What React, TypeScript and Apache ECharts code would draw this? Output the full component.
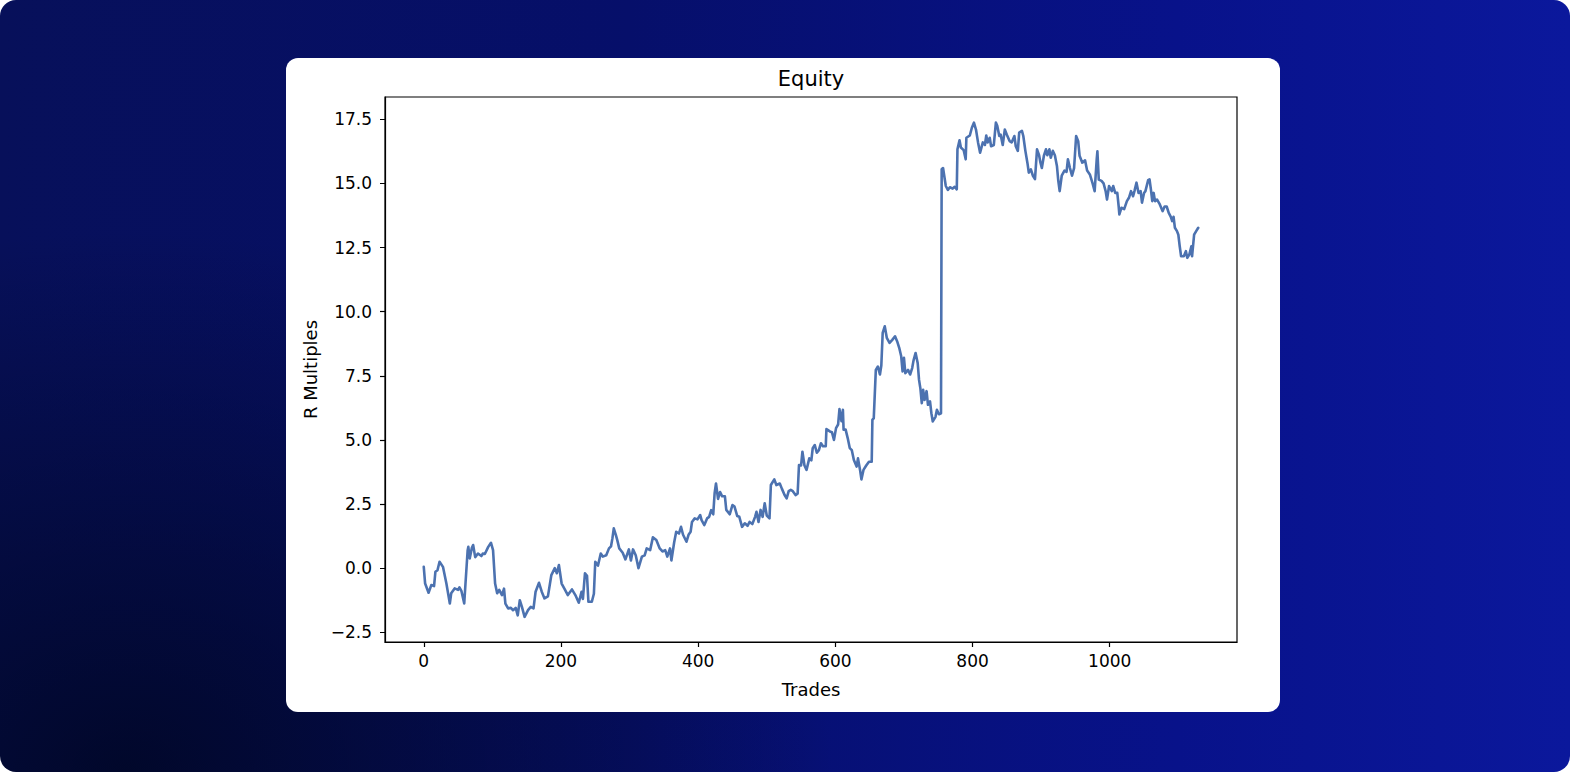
import React, { useEffect, useRef } from "react";
import * as echarts from "echarts";

// [trade number, cumulative R multiple]
const earlyTrades: [number, number][] = [
  [0, 0.05], [2, -0.6], [7, -0.96], [11, -0.66], [15, -0.7], [17, -0.14], [20, -0.08], [23, 0.25],
  [28, 0.05], [33, -0.6], [38, -1.38], [40, -0.98], [45, -0.79], [50, -0.85], [52, -0.75], [55, -0.9],
  [59, -1.38], [61, -0.53], [64, 0.7], [65, 0.83], [67, 0.38], [70, 0.78], [72, 0.9], [75, 0.43],
  [79, 0.57], [84, 0.47], [86, 0.57], [89, 0.55], [94, 0.83], [98, 0.99], [101, 0.7], [104, -0.6],
  [107, -0.98], [110, -0.85], [114, -1.05], [117, -0.8], [119, -1.38], [123, -1.57], [127, -1.55],
  [130, -1.64], [134, -1.55], [137, -1.84], [140, -1.25], [143, -1.5], [147, -1.9], [152, -1.64],
  [156, -1.51], [160, -1.57], [163, -0.92], [168, -0.57], [172, -0.92], [176, -1.18], [181, -1.1],
  [186, -0.27], [191, 0.0], [194, -0.2], [197, 0.12],
];

const climbTrades: [number, number][] = [
  [201, -0.6], [205, -0.8], [210, -1.05], [216, -0.83], [221, -1.05], [226, -1.35], [230, -0.92],
  [232, -1.2], [235, -0.2], [238, -0.3], [240, -1.31], [245, -1.31], [248, -1.0], [250, 0.25],
  [254, 0.1], [258, 0.57], [261, 0.45], [266, 0.5], [270, 0.77], [273, 0.85], [275, 1.16], [277, 1.55],
  [280, 1.3], [282, 1.1], [285, 0.77], [290, 0.6], [294, 0.34], [299, 0.73], [302, 0.3], [305, 0.73],
  [309, 0.5], [313, 0.0], [318, 0.45], [322, 0.5], [325, 0.77], [330, 0.7], [334, 1.2], [339, 1.1],
  [344, 0.77], [348, 0.65], [352, 0.7], [355, 0.45], [359, 0.77], [361, 0.3], [365, 1.0], [368, 1.42],
  [372, 1.35], [375, 1.61], [378, 1.3], [383, 1.03], [386, 1.3], [389, 1.42], [391, 1.8], [395, 1.94],
  [399, 1.9], [403, 2.07], [405, 1.87], [409, 1.68], [413, 1.94], [416, 2.0], [419, 2.26], [422, 2.1],
  [424, 2.92], [426, 3.3], [429, 2.7], [432, 2.97], [435, 2.8], [439, 2.8],
  [441, 2.27], [446, 2.1], [450, 2.46], [453, 2.4], [457, 2.03], [460, 2.0], [464, 1.61], [468, 1.75],
  [472, 1.65], [475, 1.8], [479, 1.72], [483, 2.0], [485, 2.2], [488, 1.8], [491, 2.27], [494, 2.0],
  [497, 2.53], [500, 2.05], [504, 1.94], [506, 3.24], [511, 3.46], [514, 3.24], [519, 3.3], [522, 3.1],
  [526, 2.85], [529, 2.72], [532, 3.0], [535, 3.05], [538, 3.0], [542, 2.85], [545, 2.9], [547, 4.02],
  [550, 4.0], [552, 4.54], [555, 4.0], [558, 3.83], [562, 4.28], [565, 4.2], [567, 4.68], [570, 4.8],
  [573, 4.5], [576, 4.6], [579, 4.87], [582, 4.75], [586, 4.75], [587, 5.42], [592, 5.33], [595, 5.3],
  [598, 5.0], [601, 5.46], [604, 5.6], [606, 6.2], [609, 5.73], [611, 6.17], [612, 5.4], [615, 5.4],
  [618, 5.07], [621, 4.68], [624, 4.6], [627, 4.22], [631, 3.96], [633, 4.28], [636, 3.83], [638, 3.46],
  [641, 3.83], [645, 4.0], [649, 4.15], [653, 4.15], [654, 5.78], [656, 5.85], [659, 7.73],
];

const jumpTrades: [number, number][] = [
  [662, 7.86], [665, 7.55], [667, 7.9], [669, 9.17], [672, 9.43], [675, 8.98], [679, 8.78], [683, 8.9],
  [687, 9.04], [690, 8.85], [693, 8.6], [696, 8.26], [698, 7.67], [700, 8.2], [702, 7.6], [706, 7.73],
  [709, 7.55], [712, 7.8], [714, 8.1], [717, 8.39], [720, 8.0], [722, 7.34], [724, 7.0], [726, 6.43],
  [728, 6.95], [730, 6.56], [733, 6.9], [735, 6.37], [738, 6.5], [740, 6.04], [742, 5.72], [746, 5.9],
  [748, 6.17], [751, 6.0], [754, 6.04], [755, 15.55], [757, 15.6], [761, 14.9], [764, 14.75],
  [767, 14.85], [771, 14.8], [774, 14.87], [777, 14.77], [778, 16.33], [781, 16.68], [783, 16.4],
  [787, 16.3], [790, 15.94], [791, 16.78], [796, 16.87], [799, 17.17], [802, 17.37], [805, 17.1],
  [808, 16.6], [811, 16.2], [815, 16.6], [818, 16.5], [820, 16.87], [822, 16.6], [825, 16.78],
  [827, 16.45], [831, 16.5], [834, 17.37], [836, 17.25], [839, 16.85], [841, 16.9], [844, 16.5],
  [847, 17.1], [850, 16.9], [854, 16.65], [857, 16.6], [861, 16.85], [863, 16.45], [866, 16.27],
  [868, 16.98], [872, 17.05], [874, 16.85], [877, 16.27], [880, 15.8],
];

const lateTrades: [number, number][] = [
  [882, 15.42], [885, 15.55], [888, 15.3], [891, 15.17], [894, 16.33], [897, 16.1], [899, 15.81],
  [901, 15.6], [904, 16.08], [907, 16.33], [909, 16.1], [912, 16.33], [914, 16.0], [917, 16.27],
  [920, 16.1], [923, 15.68], [925, 15.1], [927, 14.7], [930, 15.3], [934, 15.5], [937, 15.45],
  [939, 15.94], [942, 15.6], [945, 15.3], [948, 15.6], [951, 16.85], [954, 16.65], [956, 16.08],
  [960, 15.81], [964, 15.9], [967, 15.5], [971, 15.35], [975, 15.0], [978, 14.7], [981, 15.94],
  [982, 16.25], [984, 15.15], [988, 15.1], [991, 15.0], [994, 14.7], [996, 14.37], [999, 14.9],
  [1003, 14.7], [1005, 14.9], [1008, 14.63], [1011, 14.63], [1013, 14.11], [1014, 13.79], [1017, 14.05],
  [1021, 14.0], [1025, 14.31], [1028, 14.44], [1031, 14.7], [1034, 14.5], [1036, 14.7], [1039, 15.03],
  [1042, 14.63], [1045, 14.7], [1047, 14.25], [1050, 14.63], [1052, 14.7], [1056, 15.13], [1058, 15.16],
  [1060, 14.77], [1062, 14.31], [1064, 14.63], [1066, 14.31], [1069, 14.37], [1073, 14.18], [1077, 13.92],
  [1080, 14.1], [1083, 14.1], [1086, 13.85], [1089, 13.7], [1091, 13.53], [1093, 13.7], [1095, 13.27],
  [1098, 13.14], [1100, 13.0], [1102, 12.55], [1104, 12.16], [1108, 12.16], [1111, 12.36], [1113, 12.1],
  [1116, 12.23], [1119, 12.55], [1120, 12.16], [1123, 13.0], [1126, 13.14], [1129, 13.27],
];

const xTicks = [0, 200, 400, 600, 800, 1000];
const yTicks = [-2.5, 0, 2.5, 5, 7.5, 10, 12.5, 15, 17.5];

const FONT = '"DejaVu Sans", sans-serif';

function EquityChart() {
  const ref = useRef<HTMLDivElement>(null);
  useEffect(() => {
    if (!ref.current) return;
    const chart = echarts.init(ref.current, undefined, { renderer: "svg" });
    const data = [...earlyTrades, ...climbTrades, ...jumpTrades, ...lateTrades];
    chart.setOption({
      animation: false,
      grid: {
        left: 99,
        right: 43,
        top: 39,
        bottom: 70,
        show: true,
        borderColor: "#000",
        borderWidth: 1.2,
        backgroundColor: "#fff",
      },
      xAxis: [
        {
          type: "value",
          min: -56.5,
          max: 1185.5,
          name: "Trades",
          nameLocation: "middle",
          nameGap: 38,
          nameTextStyle: { fontFamily: FONT, fontSize: 18, color: "#000" },
          axisLine: { show: true, onZero: false, lineStyle: { color: "#000", width: 1.2 } },
          splitLine: { show: false },
          axisTick: {
            show: true,
            inside: false,
            length: 5,
            customValues: xTicks,
            lineStyle: { color: "#000", width: 1.2 },
          },
          axisLabel: {
            customValues: xTicks,
            margin: 10,
            fontFamily: FONT,
            fontSize: 17,
            color: "#000",
            formatter: (v: number) => String(v),
          },
        },
        {
          type: "value",
          position: "top",
          min: -56.5,
          max: 1185.5,
          name: "Equity",
          nameLocation: "middle",
          nameGap: 8,
          nameTextStyle: { fontFamily: FONT, fontSize: 21, color: "#000" },
          axisLine: { show: false, onZero: false },
          axisTick: { show: false },
          axisLabel: { show: false },
          splitLine: { show: false },
        },
      ],
      yAxis: {
        type: "value",
        min: -2.88,
        max: 18.37,
        name: "R Multiples",
        nameLocation: "middle",
        nameGap: 66,
        nameTextStyle: { fontFamily: FONT, fontSize: 18, color: "#000" },
        axisLine: { show: true, onZero: false, lineStyle: { color: "#000", width: 1.2 } },
        splitLine: { show: false },
        axisTick: {
          show: true,
          inside: false,
          length: 5,
          customValues: yTicks,
          lineStyle: { color: "#000", width: 1.2 },
        },
        axisLabel: {
          customValues: yTicks,
          margin: 13,
          fontFamily: FONT,
          fontSize: 17,
          color: "#000",
          formatter: (v: number) => (v < 0 ? "\u2212" : "") + Math.abs(v).toFixed(1),
        },
      },
      series: [
        {
          type: "line",
          data,
          showSymbol: false,
          symbol: "none",
          lineStyle: { color: "#4c72b0", width: 2.6, join: "round", cap: "round" },
          silent: true,
        },
      ],
    });
    return () => chart.dispose();
  }, []);
  return <div ref={ref} style={{ width: 994, height: 654 }} />;
}

export default function App() {
  return (
    <div
      style={{
        position: "fixed",
        left: 0,
        top: 0,
        width: 1570,
        height: 772,
        background: "#fff",
      }}
    >
      <div
        style={{
          position: "absolute",
          inset: 0,
          borderRadius: 16,
          overflow: "hidden",
          background:
            "radial-gradient(ellipse 45% 70% at 8% 100%, rgba(0,6,34,0.85) 0%, rgba(0,6,34,0) 100%), linear-gradient(90deg, #07105a 0%, #060f6a 40%, #08128a 75%, #0b189c 100%)",
        }}
      >
        <div
          style={{
            position: "absolute",
            left: 286,
            top: 58,
            width: 994,
            height: 654,
            borderRadius: 12,
            overflow: "hidden",
            background: "#fff",
          }}
        >
          <EquityChart />
        </div>
      </div>
    </div>
  );
}
